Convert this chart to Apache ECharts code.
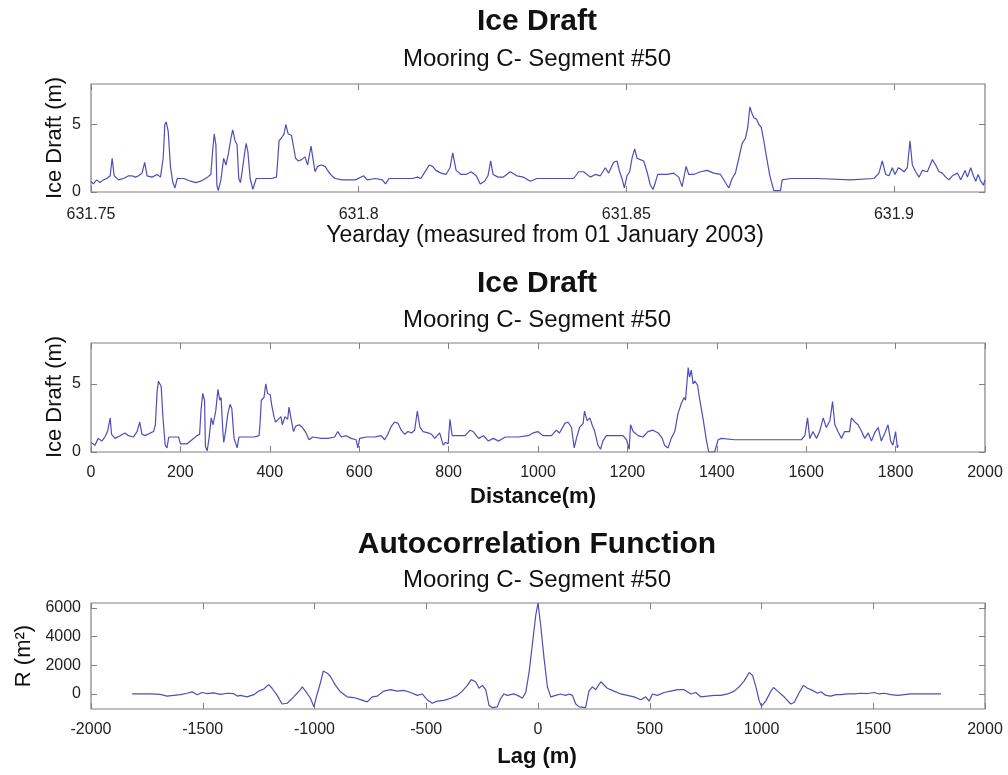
<!DOCTYPE html>
<html>
<head>
<meta charset="utf-8">
<script src="https://cdn.jsdelivr.net/npm/echarts@6/dist/echarts.min.js"></script>
<style>
html,body{margin:0;padding:0;background:#fff;}
#chart{width:1008px;height:775px;}
</style>
</head>
<body>
<div id="chart"></div>
<script>
// ---------- DATA ----------
const titleTop = 'Ice Draft';
const titleMid = 'Ice Draft';
const titleBot = 'Autocorrelation Function';
const subtitle = 'Mooring C- Segment #50';

const dayTicks = [631.75, 631.8, 631.85, 631.9];
const distTicks = [0, 200, 400, 600, 800, 1000, 1200, 1400, 1600, 1800, 2000];
const lagTicks = [-2000, -1500, -1000, -500, 0, 500, 1000, 1500, 2000];
const draftTicks = [0, 5];
const acfTicks = [0, 2000, 4000, 6000];

// Ice draft (m) vs yearday
const draftByDay = [
[631.75000,0.8],[631.75044,0.6],[631.75107,0.9],[631.75169,0.7],[631.75232,0.9],[631.75295,1.0],[631.75358,1.2],[631.75395,2.5],[631.75433,1.2],[631.75514,0.9],
[631.75608,1.0],[631.75702,1.2],[631.75765,1.2],[631.75828,1.1],[631.75890,1.2],[631.75953,1.4],[631.76003,2.2],[631.76047,1.2],[631.76141,1.1],[631.76235,1.3],
[631.76298,1.1],[631.76348,2.5],[631.76379,5.0],[631.76405,5.2],[631.76442,4.5],[631.76486,1.8],[631.76530,0.7],[631.76568,0.3],[631.76612,1.0],[631.76737,1.0],
[631.76863,0.8],[631.76957,0.7],[631.77051,0.8],[631.77176,1.1],[631.77239,1.3],[631.77271,3.0],[631.77302,4.3],[631.77333,3.5],[631.77352,0.5],[631.77377,0.1],
[631.77427,0.9],[631.77477,2.5],[631.77521,2.0],[631.77565,2.8],[631.77615,4.0],[631.77647,4.6],[631.77691,3.8],[631.77728,3.5],[631.77760,1.0],[631.77791,0.7],
[631.77823,1.5],[631.77867,2.8],[631.77898,3.6],[631.77930,3.0],[631.77974,1.0],[631.78024,0.2],[631.78086,1.0],[631.78180,1.0],[631.78369,1.0],[631.78463,1.1],
[631.78482,2.0],[631.78513,3.8],[631.78557,4.0],[631.78607,4.3],[631.78639,5.0],[631.78683,4.3],[631.78745,4.2],[631.78777,3.5],[631.78821,2.5],[631.78871,2.3],
[631.78934,2.4],[631.78997,2.6],[631.79047,2.0],[631.79078,2.7],[631.79110,3.4],[631.79153,2.3],[631.79185,1.5],[631.79235,1.9],[631.79298,2.0],[631.79373,1.9],
[631.79436,1.5],[631.79499,1.2],[631.79561,1.0],[631.79687,0.9],[631.79812,0.9],[631.79938,0.9],[631.80095,1.2],[631.80157,0.9],[631.80314,1.0],[631.80440,0.9],
[631.80502,0.6],[631.80565,1.0],[631.80753,1.0],[631.80879,1.0],[631.81004,1.0],[631.81098,1.1],[631.81161,1.0],[631.81224,1.4],[631.81318,2.0],[631.81380,1.9],
[631.81443,1.6],[631.81537,1.4],[631.81631,1.3],[631.81707,1.8],[631.81757,2.9],[631.81820,1.6],[631.81914,1.3],[631.82008,1.3],[631.82102,1.5],[631.82196,1.2],
[631.82271,0.6],[631.82353,0.8],[631.82415,1.2],[631.82466,2.3],[631.82510,1.3],[631.82604,1.1],[631.82698,1.1],[631.82831,1.5],[631.82955,1.2],[631.83080,1.1],
[631.83205,0.8],[631.83329,1.0],[631.83516,1.0],[631.83703,1.0],[631.83890,1.0],[631.84015,1.0],[631.84109,1.5],[631.84202,1.5],[631.84327,1.1],[631.84420,1.3],
[631.84514,1.2],[631.84607,1.8],[631.84670,1.4],[631.84763,2.2],[631.84825,2.3],[631.84875,1.5],[631.84919,1.0],[631.84963,0.3],[631.85012,1.2],[631.85062,1.5],
[631.85106,2.5],[631.85156,3.2],[631.85199,2.5],[631.85262,2.4],[631.85324,2.3],[631.85387,1.5],[631.85449,0.5],[631.85499,0.2],[631.85542,0.7],[631.85586,1.3],
[631.85636,1.3],[631.85761,1.3],[631.85885,1.4],[631.85979,1.1],[631.86041,0.4],[631.86072,1.0],[631.86116,1.9],[631.86166,1.3],[631.86259,1.3],[631.86384,1.5],
[631.86509,1.6],[631.86633,1.4],[631.86758,1.3],[631.86851,0.7],[631.86914,0.3],[631.86976,1.0],[631.87038,1.4],[631.87101,2.5],[631.87163,3.6],[631.87226,4.0],
[631.87269,4.8],[631.87307,6.3],[631.87350,5.8],[631.87381,5.5],[631.87431,5.4],[631.87475,5.0],[631.87519,4.8],[631.87568,3.8],[631.87618,2.6],[631.87681,1.2],
[631.87755,0.1],[631.87880,0.1],[631.87911,0.9],[631.88067,1.0],[631.88566,1.0],[631.89189,0.9],[631.89626,1.0],[631.89719,1.4],[631.89781,2.3],[631.89844,1.3],
[631.89906,1.2],[631.89969,1.8],[631.90018,1.3],[631.90081,1.8],[631.90124,1.7],[631.90187,1.5],[631.90249,1.8],[631.90299,3.8],[631.90343,2.0],[631.90405,1.5],
[631.90467,1.1],[631.90530,1.6],[631.90623,1.5],[631.90717,2.4],[631.90779,2.0],[631.90841,1.5],[631.90903,1.4],[631.90966,1.1],[631.91028,0.9],[631.91091,1.2],
[631.91184,1.4],[631.91246,0.9],[631.91328,1.6],[631.91371,1.1],[631.91434,1.8],[631.91484,1.2],[631.91527,0.8],[631.91571,1.3],[631.91621,0.8],[631.91671,0.5],
[631.91696,0.9]
];

// Ice draft (m) vs distance (m)
const draftByDist = [
[0,0.7],[9,0.5],[16,1.0],[24,0.8],[31,1.1],[37,1.5],[43,2.5],[46,1.3],[54,1.0],[65,1.2],[76,1.4],[84,1.2],[95,1.1],[103,1.5],[109,2.2],[114,1.3],
[121,1.2],[133,1.4],[140,1.5],[144,2.0],[148,4.5],[151,5.2],[157,4.8],[161,2.5],[166,0.5],[170,0.3],[174,1.1],[185,1.1],[196,1.1],[200,0.6],[215,0.6],
[226,0.9],[237,1.2],[243,1.3],[246,3.0],[250,4.3],[254,3.8],[256,0.4],[260,0.1],[264,1.0],[269,2.5],[273,2.0],[279,3.0],[284,4.6],[288,3.8],[291,4.0],
[295,1.5],[297,0.7],[301,1.5],[306,2.8],[311,3.5],[315,3.2],[320,1.0],[327,0.3],[331,1.1],[342,1.1],[365,1.1],[376,1.2],[378,2.0],[381,3.8],[387,4.0],
[391,5.0],[395,4.3],[401,4.2],[404,3.5],[410,2.5],[413,2.2],[419,2.4],[425,2.6],[428,2.0],[434,2.6],[440,2.4],[443,3.3],[449,2.2],[453,1.5],[458,1.9],
[466,2.0],[473,1.8],[481,1.4],[488,0.9],[496,1.1],[515,1.0],[530,1.0],[545,1.1],[552,1.5],[560,1.1],[571,1.2],[582,1.0],[593,0.9],[597,0.3],[601,1.0],
[616,1.1],[634,1.1],[649,1.2],[657,0.9],[664,1.3],[672,1.9],[679,2.2],[687,2.1],[694,1.6],[702,1.3],[709,1.5],[717,1.4],[724,1.6],[730,3.0],[736,1.8],
[743,1.5],[754,1.4],[762,1.3],[769,1.0],[780,1.4],[788,0.5],[793,0.7],[799,0.6],[803,2.4],[808,1.2],[822,1.2],[837,1.2],[848,1.6],[855,1.5],[867,1.0],
[878,1.2],[889,0.8],[900,1.0],[912,0.8],[927,1.1],[941,1.1],[955,1.1],[978,1.2],[989,1.4],[1000,1.5],[1011,1.2],[1030,1.2],[1041,1.6],[1048,1.4],
[1060,2.1],[1067,2.2],[1075,1.8],[1081,0.3],[1086,1.0],[1093,1.8],[1101,2.1],[1104,3.0],[1110,2.3],[1116,2.5],[1121,2.0],[1127,1.5],[1134,0.5],[1140,0.2],
[1145,0.8],[1153,1.2],[1172,1.2],[1190,1.2],[1198,0.9],[1204,0.2],[1207,2.0],[1213,1.5],[1224,1.2],[1235,1.1],[1246,1.5],[1257,1.6],[1269,1.4],[1278,1.0],
[1283,0.5],[1291,0.3],[1298,1.0],[1306,1.5],[1313,2.8],[1321,3.6],[1327,4.0],[1330,3.8],[1336,6.2],[1339,5.5],[1343,6.0],[1347,5.0],[1351,5.2],[1357,4.9],
[1362,3.8],[1369,2.5],[1377,0.8],[1382,0.0],[1395,0.0],[1403,0.9],[1410,1.0],[1440,0.9],[1477,0.9],[1515,0.9],[1552,0.9],[1589,0.9],[1597,1.2],[1603,2.5],
[1608,1.0],[1615,1.5],[1623,1.0],[1630,1.5],[1638,2.5],[1645,1.8],[1653,2.3],[1659,3.7],[1664,2.0],[1671,1.5],[1679,1.0],[1686,1.5],[1697,1.5],[1701,2.5],
[1709,2.2],[1716,2.0],[1724,1.5],[1731,1.0],[1739,1.4],[1746,0.8],[1753,1.4],[1761,1.8],[1768,0.8],[1776,1.4],[1783,2.0],[1789,0.8],[1794,0.5],[1800,1.5],
[1804,0.3],[1806,0.5]
];

// Autocorrelation R (m^2) vs lag (m)
const acfByLag = [
[-1816,0],[-1779,0],[-1734,0],[-1690,-30],[-1660,-150],[-1630,-100],[-1600,-50],[-1570,50],[-1548,150],[-1525,-50],[-1503,100],[-1481,30],[-1451,80],
[-1421,-30],[-1391,50],[-1361,20],[-1346,-150],[-1331,-100],[-1302,-200],[-1272,-50],[-1249,200],[-1227,350],[-1205,650],[-1190,400],[-1167,-100],
[-1145,-700],[-1122,-650],[-1093,-200],[-1063,300],[-1055,500],[-1040,200],[-1018,-300],[-1003,-900],[-988,0],[-973,800],[-961,1600],[-943,1450],
[-928,1200],[-906,600],[-884,150],[-854,-200],[-824,-250],[-794,-400],[-764,-550],[-742,-200],[-719,-150],[-690,200],[-660,300],[-630,200],[-600,250],
[-570,100],[-540,-100],[-518,0],[-496,-400],[-473,-650],[-451,-500],[-421,-450],[-391,-300],[-361,-100],[-339,200],[-316,600],[-299,1000],[-279,850],
[-264,400],[-249,600],[-234,300],[-219,-800],[-205,-950],[-182,-900],[-167,-300],[-152,0],[-137,-100],[-107,0],[-100,-50],[-85,-150],[-70,-300],
[-55,100],[-40,1500],[-25,3500],[-10,5500],[0,6350],[12,4800],[27,2500],[42,500],[57,-200],[79,-100],[101,0],[124,-100],[139,0],[154,-100],[169,-700],
[184,-900],[213,-950],[228,200],[243,500],[258,300],[281,850],[310,400],[340,200],[370,0],[400,-100],[430,-200],[460,-400],[482,-200],[497,-500],
[512,0],[534,-100],[564,100],[594,200],[624,300],[654,300],[684,0],[706,100],[728,-200],[758,-150],[788,-100],[818,-100],[848,0],[878,200],[900,500],
[922,900],[945,1500],[960,1300],[975,500],[990,-500],[1000,-850],[1019,-500],[1042,200],[1054,450],[1072,200],[1101,-200],[1131,-700],[1146,-600],
[1169,100],[1188,600],[1206,400],[1228,250],[1251,50],[1266,150],[1288,-100],[1310,-150],[1333,-50],[1355,-50],[1385,0],[1415,0],[1445,50],[1475,30],
[1504,100],[1527,0],[1549,50],[1579,-50],[1609,-100],[1639,-50],[1669,0],[1713,0],[1758,0],[1803,0]
];

// ---------- CHART ----------
const FONT = '"Liberation Sans", Arial, Helvetica, sans-serif';
const BOX = '#808080';
const LINE = '#4e4eb6';
const TXT = '#222';

function fmt(v) { return String(+(+v).toFixed(3)); }

function xPair(grid, min, max, ticks, margin) {
  const base = {
    type: 'value', gridIndex: grid, min: min, max: max,
    axisLine: { show: false, onZero: false },
    splitLine: { show: false },
    axisTick: { show: true, inside: true, length: 6, customValues: ticks, lineStyle: { color: BOX, width: 1 } }
  };
  return [
    Object.assign({}, base, { position: 'bottom',
      axisLabel: { customValues: ticks, fontSize: 16, color: TXT, fontFamily: FONT, margin: margin, formatter: fmt } }),
    Object.assign({}, base, { position: 'top', axisLabel: { show: false } })
  ];
}
function yPair(grid, min, max, ticks) {
  const base = {
    type: 'value', gridIndex: grid, min: min, max: max,
    axisLine: { show: false, onZero: false },
    splitLine: { show: false },
    axisTick: { show: true, inside: true, length: 6, customValues: ticks, lineStyle: { color: BOX, width: 1 } }
  };
  return [
    Object.assign({}, base, { position: 'left',
      axisLabel: { customValues: ticks, fontSize: 16, color: TXT, fontFamily: FONT, margin: 10, formatter: fmt } }),
    Object.assign({}, base, { position: 'right', axisLabel: { show: false } })
  ];
}

const gridCommon = { show: true, borderColor: BOX, borderWidth: 1.2, backgroundColor: 'transparent', containLabel: false };

function txt(t, x, y, size, bold, rot) {
  return {
    type: 'text', x: x, y: y, rotation: rot || 0, z: 10,
    style: { text: t, font: (bold ? 'bold ' : '') + size + 'px ' + FONT, fill: '#111', align: 'center', verticalAlign: 'middle' }
  };
}

const chart = echarts.init(document.getElementById('chart'), null, { renderer: 'canvas' });
chart.setOption({
  animation: false,
  backgroundColor: '#fff',
  grid: [
    Object.assign({ left: 91, top: 84, width: 894, height: 108 }, gridCommon),
    Object.assign({ left: 91, top: 343, width: 894, height: 109 }, gridCommon),
    Object.assign({ left: 91, top: 603, width: 894, height: 106 }, gridCommon)
  ],
  xAxis: [].concat(
    xPair(0, 631.75, 631.917, dayTicks, 15),
    xPair(1, 0, 2000, distTicks, 13),
    xPair(2, -2000, 2000, lagTicks, 13)
  ),
  yAxis: [].concat(
    yPair(0, 0, 8, draftTicks),
    yPair(1, 0, 8, draftTicks),
    yPair(2, -1050, 6350, acfTicks)
  ),
  series: [
    { type: 'line', xAxisIndex: 0, yAxisIndex: 0, data: draftByDay, showSymbol: false, lineStyle: { color: LINE, width: 1.2 } },
    { type: 'line', xAxisIndex: 2, yAxisIndex: 2, data: draftByDist, showSymbol: false, lineStyle: { color: LINE, width: 1.2 } },
    { type: 'line', xAxisIndex: 4, yAxisIndex: 4, data: acfByLag, showSymbol: false, lineStyle: { color: LINE, width: 1.2 } }
  ],
  graphic: [
    txt(titleTop, 537, 22, 30, true),
    txt(subtitle, 537, 59, 24, false),
    txt('Yearday (measured from 01 January 2003)', 545, 236, 23, false),
    txt('Ice Draft (m)', 55, 138, 22, false, Math.PI / 2),

    txt(titleMid, 537, 284, 30, true),
    txt(subtitle, 537, 320, 24, false),
    txt('Distance(m)', 533, 497, 22, true),
    txt('Ice Draft (m)', 55, 397, 22, false, Math.PI / 2),

    txt(titleBot, 537, 545, 30, true),
    txt(subtitle, 537, 580, 24, false),
    txt('Lag (m)', 537, 757, 22, true),
    txt('R (m²)', 24, 656, 22, false, Math.PI / 2)
  ]
});
</script>
</body>
</html>
